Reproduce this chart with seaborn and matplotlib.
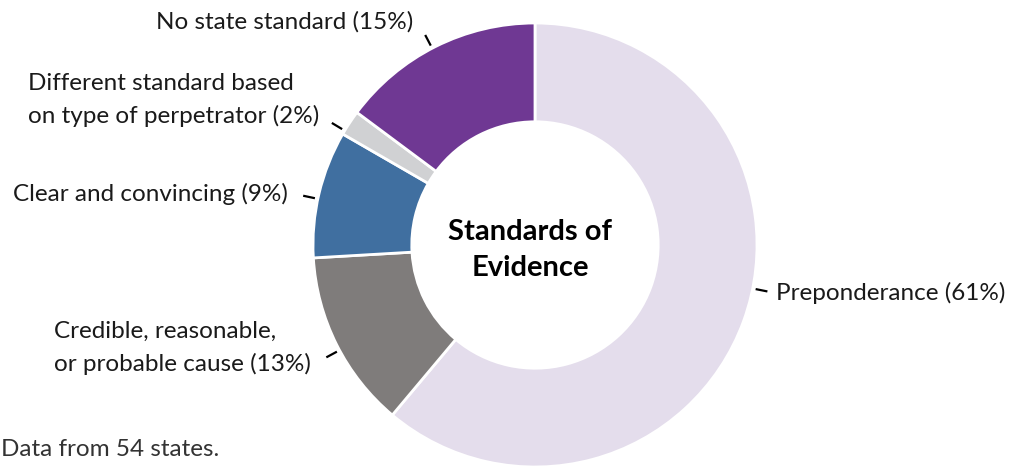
import numpy as np
import matplotlib
matplotlib.use("Agg")
import matplotlib.pyplot as plt
import seaborn as sns

# ---- data ----
categories = ["Preponderance", "Credible, reasonable,\nor probable cause", "Clear and convincing",
              "Different standard based\non type of perpetrator", "No state standard"]
state_counts = [33, 7, 5, 1, 8]
pct_labels = ["61%", "13%", "9%", "2%", "15%"]
colors = ["#E4DDEC", "#7F7C7B", "#406FA0", "#D0D1D3", "#6F3893"]
center_title = "Standards of\nEvidence"
footnote = "Data from 54 states."

sns.set_theme(style="white")
plt.rcParams['font.family'] = ['Lato', 'DejaVu Sans']

W, H = 1011, 466
fig = plt.figure(figsize=(W / 100, H / 100), dpi=100)
ax = fig.add_axes([0, 0, 1, 1])

cx, cy = 535, H - 245
R = 222
width = 0.445 * R

wedges, _ = ax.pie(state_counts, colors=colors, startangle=90, counterclock=False,
                   center=(cx, cy), radius=R, frame=True,
                   wedgeprops=dict(width=width, edgecolor="white", linewidth=2))
ax.set_xlim(0, W)
ax.set_ylim(0, H)
ax.set_aspect("equal")
ax.axis("off")

fs = 17.5
# label layout: (tick angle deg, text x, text y, ha)
layout = [
    (-11.3, 776, H - 293, "left"),
    (208.3, 311, H - 348, "right"),
    (168.0, 288, H - 194, "right"),
    (149.0, 319, H - 100, "right"),
    (117.6, 413, H - 22, "right"),
]
for cat, pct, (ang, tx, ty, ha) in zip(categories, pct_labels, layout):
    a = np.deg2rad(ang)
    r0, r1 = R + 3, R + 15
    ax.plot([cx + r0 * np.cos(a), cx + r1 * np.cos(a)],
            [cy + r0 * np.sin(a), cy + r1 * np.sin(a)], color="black", lw=1.6,
            solid_capstyle="butt")
    ax.text(tx, ty, f"{cat} ({pct})", ha=ha, va="center", fontsize=fs,
            color="#1a1a1a", multialignment="left", linespacing=1.6)

ax.text(cx - 5, cy - 5, center_title, ha="center", va="center", fontsize=21,
        fontweight="bold", color="black", linespacing=1.5)

ax.text(1, H - 449, footnote, ha="left", va="center", fontsize=fs, color="#333333")

fig.savefig("out.png", dpi=100)
